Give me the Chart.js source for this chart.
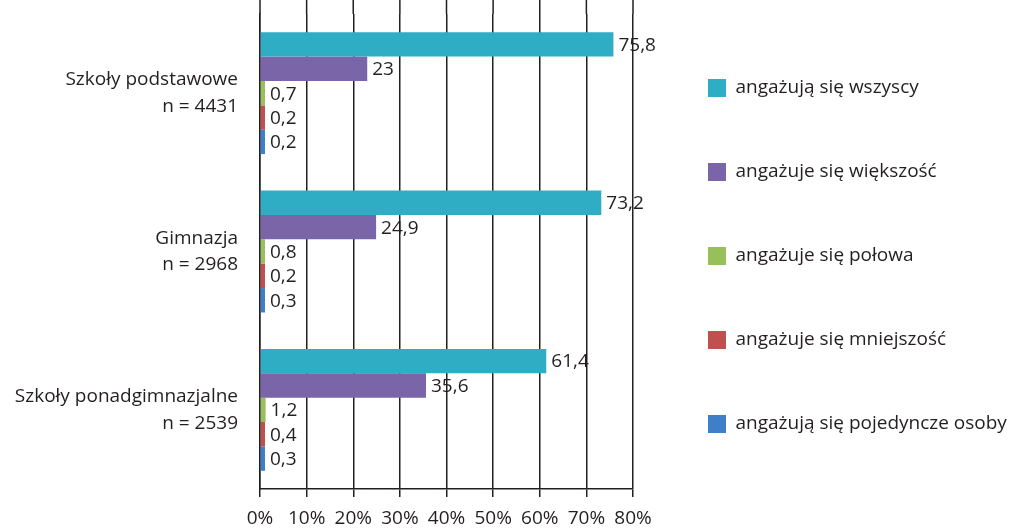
<!DOCTYPE html>
<html>
<head>
<meta charset="utf-8">
<script src="https://cdn.jsdelivr.net/npm/chart.js@4.4.0/dist/chart.umd.min.js"></script>
<style>
    html, body { margin: 0; padding: 0; background: #fff; }
    .chart-box { width: 1015px; height: 528px; }
</style>
</head>
<body>
<div class='chart-box'>
    <canvas id="schoolsChart" width="1015" height="528"></canvas>
</div>
<script>
// Categories (two-line labels)
const categories = [
    ['Szkoły podstawowe', 'n = 4431'],
    ['Gimnazja', 'n = 2968'],
    ['Szkoły ponadgimnazjalne', 'n = 2539']
];

const seriesNames = [
    'angażują się wszyscy',
    'angażuje się większość',
    'angażuje się połowa',
    'angażuje się mniejszość',
    'angażują się pojedyncze osoby'
];

// values in %, per category
const wszyscy = [75.8, 73.2, 61.4];
const wiekszosc = [23, 24.9, 35.6];
const polowa = [0.7, 0.8, 1.2];
const mniejszosc = [0.2, 0.2, 0.4];
const pojedyncze = [0.2, 0.3, 0.3];

const xMin = 0;
const xMax = 80;
const xStep = 10;

const colors = ['#2fadc5', '#7b65a9', '#97bf5a', '#c0504d', '#3f7fc9'];
const ink = '#231f20';
const fontFamily = "'Open Sans', sans-serif";
const fontSize = 19;

Chart.defaults.font.family = fontFamily;
Chart.defaults.color = ink;

// value labels to the right of every bar
const valueLabels = {
    id: 'valueLabels',
    afterDatasetsDraw(chart) {
        const ctx = chart.ctx;
        ctx.save();
        ctx.font = fontSize + "px " + fontFamily;
        ctx.fillStyle = ink;
        ctx.textAlign = 'left';
        ctx.textBaseline = 'middle';
        chart.data.datasets.forEach(function(ds, i) {
            chart.getDatasetMeta(i).data.forEach(function(bar, j) {
                const txt = String(ds.data[j]).replace('.', ',');
                ctx.fillText(txt, bar.x + 5, bar.y + 1);
            });
        });
        ctx.restore();
    }
};

// vertical grid lines run up to the top of the canvas
const gridToTop = {
    id: 'gridToTop',
    beforeDatasetsDraw(chart) {
        const ctx = chart.ctx;
        const x = chart.scales.x;
        ctx.save();
        ctx.strokeStyle = ink;
        ctx.lineWidth = 1.5;
        x.ticks.forEach(function(t) {
            const px = x.getPixelForValue(t.value);
            ctx.beginPath();
            ctx.moveTo(px, 0);
            ctx.lineTo(px, chart.chartArea.top);
            ctx.stroke();
        });
        ctx.restore();
    }
};

// fixed legend width, legend column moved a bit right and up
const legendWidth = 382;
const legendNudge = {
    id: 'legendNudge',
    beforeLayout(chart) {
        const l = chart.legend;
        if (l && !l._fixedFit) {
            const fit = l.fit;
            l.fit = function() {
                fit.call(this);
                this.width = legendWidth;
            };
            l._fixedFit = true;
        }
    },
    afterLayout(chart) {
        const l = chart.legend;
        l.left += 10;
        l.right += 10;
        l.top -= 15;
        l.bottom -= 15;
    }
};

const allSeries = [wszyscy, wiekszosc, polowa, mniejszosc, pojedyncze];

new Chart(document.getElementById('schoolsChart'), {
    type: 'bar',
    data: {
        labels: categories,
        datasets: allSeries.map(function(vals, i) {
            return {
                label: seriesNames[i],
                data: vals,
                backgroundColor: colors[i],
                borderWidth: 0,
                minBarLength: 5,
                categoryPercentage: 0.77,
                barPercentage: 1
            };
        })
    },
    options: {
        indexAxis: 'y',
        responsive: false,
        animation: false,
        layout: { padding: { top: 14, bottom: 0, left: 10, right: 0 } },
        scales: {
            x: {
                min: xMin,
                max: xMax,
                afterFit(scale) { scale.height = 39; },
                grid: { color: ink, lineWidth: 1.5, tickLength: 8 },
                border: { color: ink, width: 1.5 },
                ticks: {
                    stepSize: xStep,
                    padding: 10,
                    font: { size: fontSize },
                    color: ink,
                    maxRotation: 0,
                    autoSkip: false,
                    callback: v => v + '%'
                }
            },
            y: {
                afterFit(scale) {
                    scale.width = 250;
                    scale.paddingTop = 0;
                    scale.paddingBottom = 0;
                },
                grid: { display: false },
                border: { color: ink, width: 1.5 },
                ticks: {
                    padding: 14,
                    font: { size: fontSize, lineHeight: 1.4 },
                    color: ink
                }
            }
        },
        plugins: {
            legend: {
                position: 'right',
                labels: {
                    boxWidth: 18,
                    boxHeight: 18,
                    padding: 65,
                    color: ink,
                    font: { size: fontSize }
                }
            },
            tooltip: { enabled: false }
        }
    },
    plugins: [valueLabels, gridToTop, legendNudge]
});
</script>
</body>
</html>
